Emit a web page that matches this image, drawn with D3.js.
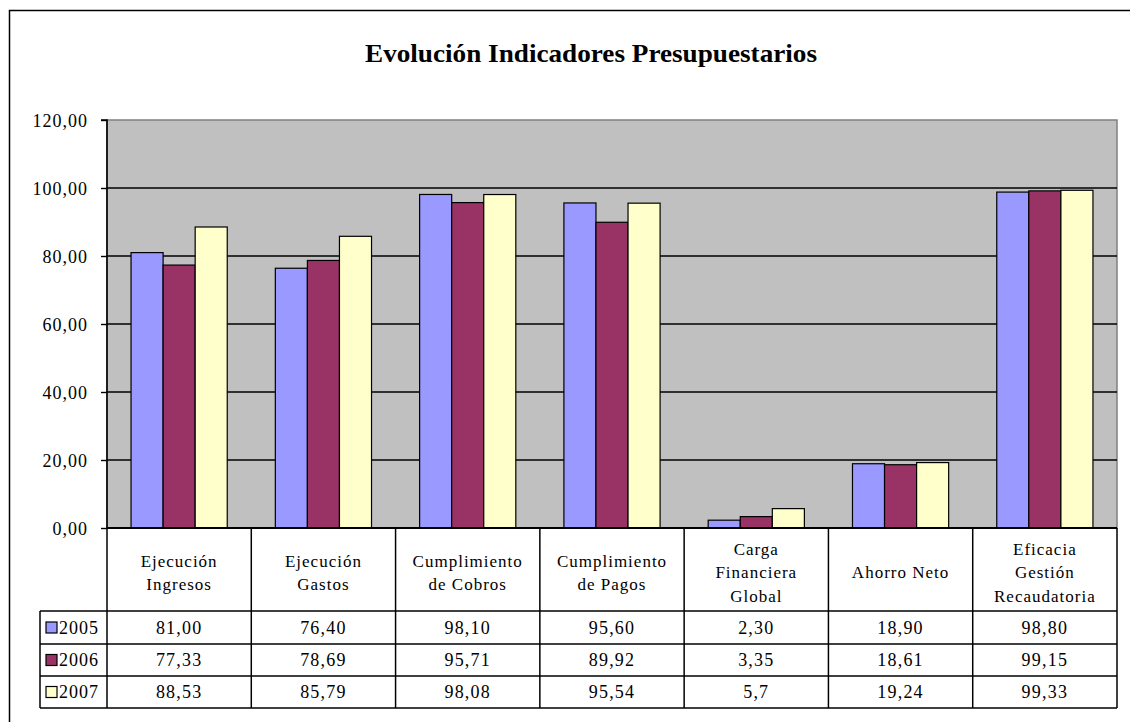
<!DOCTYPE html>
<html>
<head>
<meta charset="utf-8">
<script src="https://cdn.jsdelivr.net/npm/d3@7"></script>
<style>
  html, body { margin: 0; padding: 0; background: #fff; }
  svg { display: block; }
  text { font-family: "Liberation Serif", "Times New Roman", serif; fill: #000; }
</style>
</head>
<body>
<svg id="chart" width="1130" height="722"></svg>
<script>
// ---- data ----
const title = "Evolución Indicadores Presupuestarios";
const categories = [
  ["Ejecución", "Ingresos"],
  ["Ejecución", "Gastos"],
  ["Cumplimiento", "de Cobros"],
  ["Cumplimiento", "de Pagos"],
  ["Carga", "Financiera", "Global"],
  ["Ahorro Neto"],
  ["Eficacia", "Gestión", "Recaudatoria"]
];
const seriesNames = ["2005", "2006", "2007"];
const values2005 = [81.00, 76.40, 98.10, 95.60, 2.30, 18.90, 98.80];
const values2006 = [77.33, 78.69, 95.71, 89.92, 3.35, 18.61, 99.15];
const values2007 = [88.53, 85.79, 98.08, 95.54, 5.7, 19.24, 99.33];
const decimals2007 = [2, 2, 2, 2, 1, 2, 2];
const yTicks = [0, 20, 40, 60, 80, 100, 120];
const colors = ["#9999FF", "#993366", "#FFFFCC"];

const series = [
  { name: seriesNames[0], values: values2005, dec: values2005.map(() => 2) },
  { name: seriesNames[1], values: values2006, dec: values2006.map(() => 2) },
  { name: seriesNames[2], values: values2007, dec: decimals2007 }
];

// ---- layout ----
const svg = d3.select("#chart");
const plotL = 107, plotR = 1117, plotT = 120, plotB = 528;
const rowH = [611, 644, 676, 708];  // row boundaries of the data table
const legendL = 40;

const fmt = (v, d) => v.toFixed(d).replace(".", ",");

// outer chart border
svg.append("rect").attr("x", 9.5).attr("y", 10.5).attr("width", 1140).attr("height", 740)
  .attr("fill", "#fff").attr("stroke", "#000").attr("stroke-width", 1.5);

// title
svg.append("text").attr("x", 591).attr("y", 62).attr("text-anchor", "middle")
  .attr("font-size", 26).attr("font-weight", "bold").attr("textLength", 452)
  .attr("lengthAdjust", "spacingAndGlyphs").text(title);

// scales
const y = d3.scaleLinear().domain([0, 120]).range([plotB, plotT]);
const x = d3.scaleBand().domain(d3.range(categories.length)).range([plotL, plotR]).paddingInner(0).paddingOuter(0);
const xs = d3.scaleBand().domain(d3.range(series.length)).range([0, x.bandwidth()]).paddingInner(0).paddingOuter(0.75);

// plot background
svg.append("rect").attr("x", plotL).attr("y", plotT).attr("width", plotR - plotL).attr("height", plotB - plotT)
  .attr("fill", "#C0C0C0").attr("stroke", "#808080").attr("stroke-width", 1.5);

// gridlines
svg.append("g").selectAll("line").data(yTicks.filter(t => t > 0 && t < 120)).join("line")
  .attr("x1", plotL).attr("x2", plotR).attr("y1", d => y(d)).attr("y2", d => y(d))
  .attr("stroke", "#000").attr("stroke-width", 1.3);

// bars
const cat = svg.append("g").selectAll("g").data(categories).join("g")
  .attr("transform", (d, i) => `translate(${x(i)},0)`);
cat.selectAll("rect").data((d, i) => series.map((s, j) => ({ j, v: s.values[i] }))).join("rect")
  .attr("x", d => xs(d.j)).attr("width", xs.bandwidth())
  .attr("y", d => y(d.v)).attr("height", d => y(0) - y(d.v))
  .attr("fill", d => colors[d.j]).attr("stroke", "#000").attr("stroke-width", 1.2);

// y axis
const yAxis = d3.axisLeft(y).tickValues(yTicks).tickSize(6).tickPadding(13)
  .tickFormat(d => fmt(d, 2));
const ga = svg.append("g").attr("transform", `translate(${plotL},0)`).call(yAxis);
ga.select(".domain").attr("stroke", "#000").attr("stroke-width", 1.6).attr("d", `M-6,${plotT}H0V${plotB}`);
ga.selectAll(".tick line").attr("stroke", "#000").attr("stroke-width", 1.4);
ga.selectAll(".tick text").attr("font-size", 18).attr("letter-spacing", 1)
  .attr("font-family", "Liberation Serif, Times New Roman, serif").attr("fill", "#000").attr("dy", "0.35em");

// ---- data table ----
const tbl = svg.append("g");
const lw = 1.5;
// horizontal lines
tbl.append("line").attr("x1", plotL).attr("x2", plotR).attr("y1", plotB).attr("y2", plotB).attr("stroke", "#000").attr("stroke-width", 1.8);
rowH.forEach(yy => {
  tbl.append("line").attr("x1", legendL).attr("x2", plotR).attr("y1", yy).attr("y2", yy)
    .attr("stroke", "#000").attr("stroke-width", lw);
});
// vertical lines
tbl.append("line").attr("x1", legendL).attr("x2", legendL).attr("y1", rowH[0]).attr("y2", rowH[3]).attr("stroke", "#000").attr("stroke-width", lw);
d3.range(categories.length + 1).forEach(i => {
  const xx = i < categories.length ? x(i) : plotR;
  tbl.append("line").attr("x1", xx).attr("x2", xx).attr("y1", plotB).attr("y2", rowH[3])
    .attr("stroke", "#000").attr("stroke-width", lw);
});

// category labels
categories.forEach((lines, i) => {
  const cx = x(i) + x.bandwidth() / 2;
  const lh = 23.5;
  const cy = (plotB + rowH[0]) / 2 + 3;
  const t = tbl.append("text").attr("text-anchor", "middle").attr("font-size", 17).attr("letter-spacing", 1);
  lines.forEach((ln, k) => {
    t.append("tspan").attr("x", cx).attr("y", cy + (k - (lines.length - 1) / 2) * lh).attr("dy", "0.35em").text(ln);
  });
});

// rows
series.forEach((s, j) => {
  const cy = (rowH[j] + rowH[j + 1]) / 2;
  tbl.append("rect").attr("x", 46).attr("y", cy - 5.5).attr("width", 11).attr("height", 11)
    .attr("fill", colors[j]).attr("stroke", "#000").attr("stroke-width", 1.2);
  tbl.append("text").attr("x", 59).attr("y", cy).attr("dy", "0.35em").attr("font-size", 18).attr("letter-spacing", 1)
    .text(s.name);
  s.values.forEach((v, i) => {
    tbl.append("text").attr("x", x(i) + x.bandwidth() / 2).attr("y", cy).attr("dy", "0.35em")
      .attr("text-anchor", "middle").attr("font-size", 18).attr("letter-spacing", 1.2)
      .text(fmt(v, s.dec[i]));
  });
});
</script>
</body>
</html>
